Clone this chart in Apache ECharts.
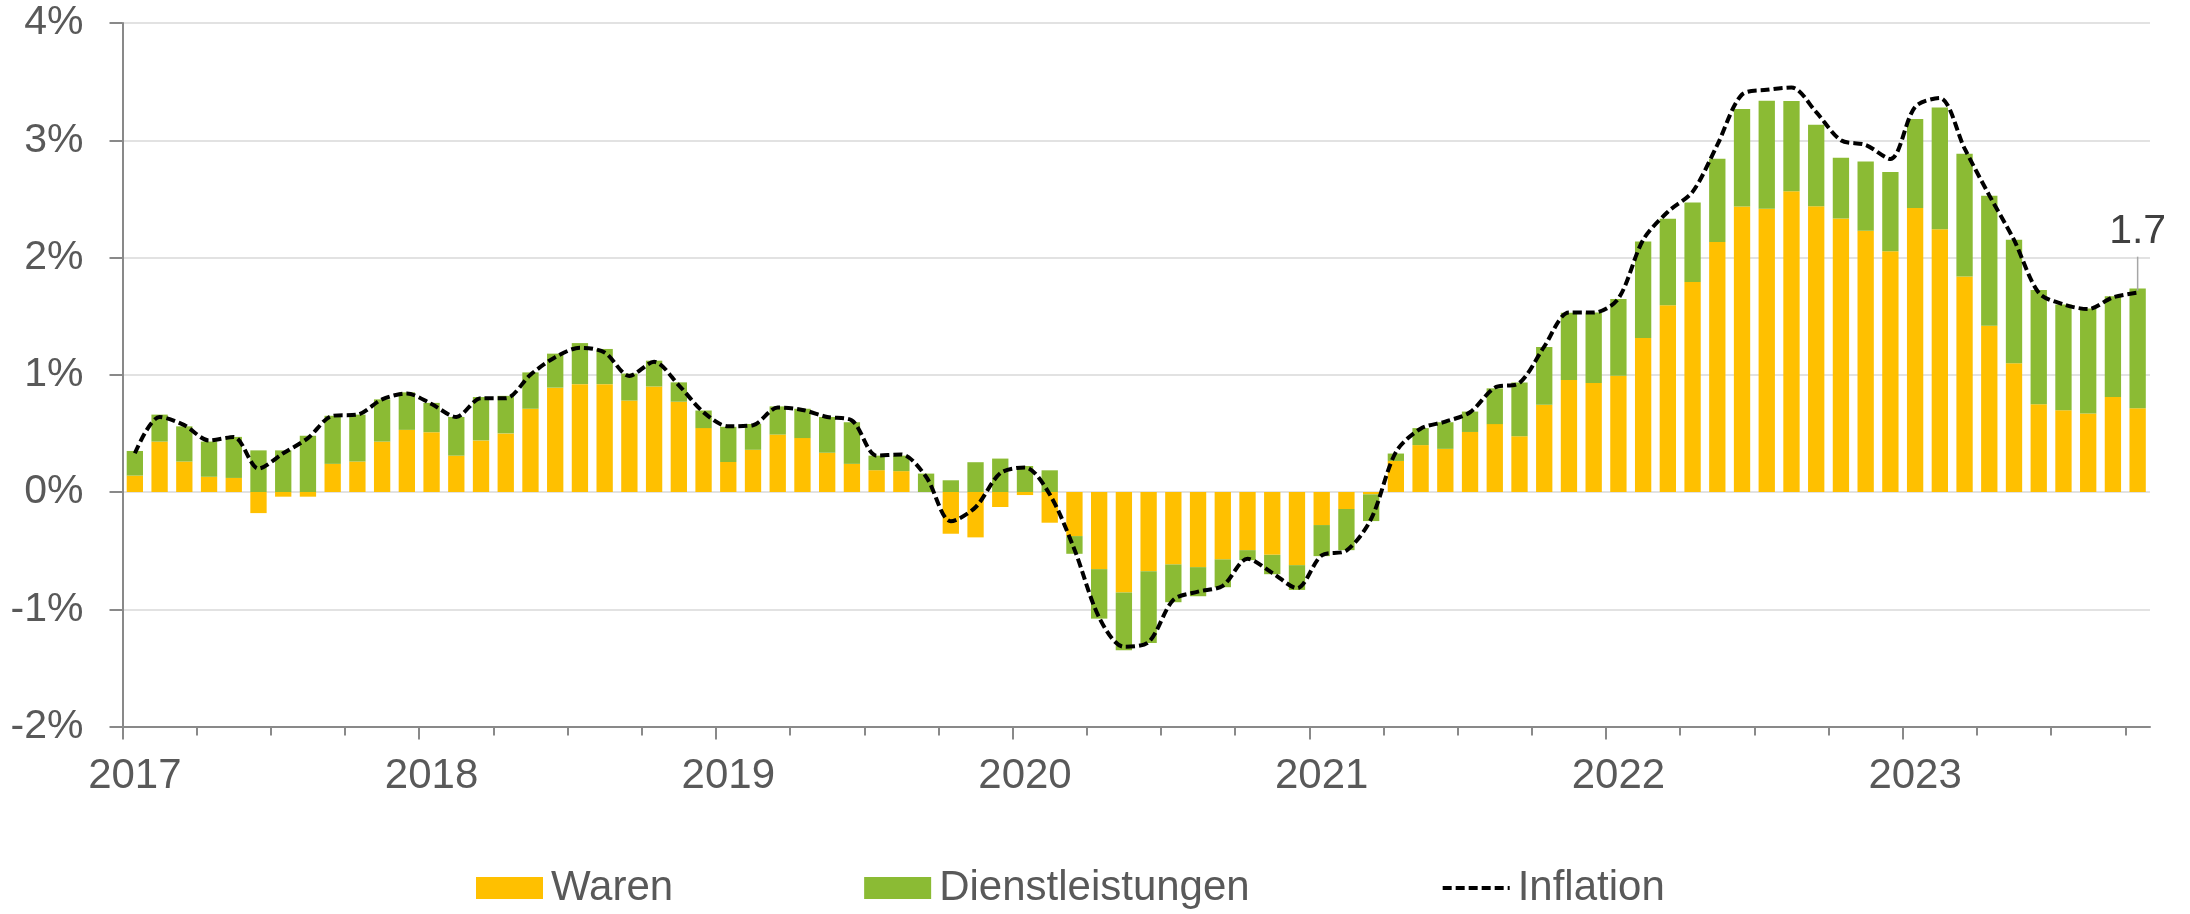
<!DOCTYPE html>
<html>
<head>
<meta charset="utf-8">
<script src="https://cdn.jsdelivr.net/npm/echarts@6/dist/echarts.min.js"></script>
<style>
html,body{margin:0;padding:0;background:#fff;}
#chart{width:2190px;height:914px;}
</style>
</head>
<body>
<div id="chart"></div>
<script>
// Year labels (one label per January)
const years = ['2017','2018','2019','2020','2021','2022','2023'];
const monthCount = 82; // Jan 2017 - Oct 2023
const months = [];
years.forEach(y => { for (let m = 1; m <= 12; m++) months.push(y + '-' + (m < 10 ? '0' + m : m)); });
months.length = monthCount;

// Contribution of goods (Waren), percentage points
const waren = [
  0.14, 0.43, 0.26, 0.13, 0.12, -0.18, -0.04, -0.04, 0.24, 0.26, 0.43, 0.53,
  0.51, 0.31, 0.44, 0.50, 0.71, 0.89, 0.92, 0.92, 0.78, 0.90, 0.77, 0.545,
  0.256, 0.36, 0.49, 0.46, 0.335, 0.24, 0.186, 0.178, 0.0, -0.356, -0.387, -0.128,
  -0.026, -0.262, -0.376, -0.658, -0.858, -0.675, -0.618, -0.641, -0.575, -0.496, -0.536, -0.624,
  -0.282, -0.145, -0.02, 0.265, 0.40, 0.368, 0.512, 0.579, 0.475, 0.744, 0.955, 0.93,
  0.992, 1.314, 1.593, 1.791, 2.133, 2.435, 2.416, 2.566, 2.438, 2.333, 2.228, 2.053,
  2.423, 2.24, 1.837, 1.417, 1.099, 0.748, 0.698, 0.669, 0.81, 0.715
];
// Contribution of services (Dienstleistungen), percentage points
const dienstleistungen = [
  0.21, 0.23, 0.30, 0.30, 0.35, 0.355, 0.355, 0.48, 0.41, 0.40, 0.36, 0.32,
  0.25, 0.33, 0.37, 0.32, 0.31, 0.29, 0.35, 0.30, 0.23, 0.22, 0.165, 0.15,
  0.30, 0.22, 0.24, 0.25, 0.305, 0.355, 0.124, 0.132, 0.157, 0.10, 0.254, 0.285,
  0.222, 0.185, -0.151, -0.422, -0.492, -0.613, -0.322, -0.248, -0.237, -0.085, -0.165, -0.211,
  -0.265, -0.351, -0.228, 0.063, 0.145, 0.227, 0.174, 0.305, 0.459, 0.492, 0.574, 0.60,
  0.653, 0.822, 0.737, 0.679, 0.709, 0.831, 0.92, 0.768, 0.694, 0.517, 0.591, 0.677,
  0.758, 1.04, 1.047, 1.11, 1.053, 0.974, 0.901, 0.897, 0.859, 1.021
];
// Inflation rate, %
const inflation = [
  0.33, 0.64, 0.57, 0.44, 0.47, 0.20, 0.33, 0.46, 0.65, 0.66, 0.79, 0.84,
  0.75, 0.64, 0.80, 0.80, 1.00, 1.15, 1.23, 1.19, 0.99, 1.11, 0.91, 0.68,
  0.56, 0.57, 0.72, 0.70, 0.64, 0.61, 0.31, 0.32, 0.13, -0.25, -0.13, 0.16,
  0.21, -0.02, -0.49, -1.07, -1.32, -1.28, -0.92, -0.85, -0.80, -0.57, -0.69, -0.82,
  -0.54, -0.50, -0.23, 0.34, 0.54, 0.60, 0.68, 0.89, 0.93, 1.24, 1.53, 1.53,
  1.65, 2.15, 2.39, 2.56, 2.96, 3.39, 3.43, 3.45, 3.24, 3.00, 2.96, 2.84,
  3.285, 3.36, 2.93, 2.53, 2.15, 1.70, 1.60, 1.56, 1.66, 1.70
];
const lastLabel = '1.7';

// Boundaries between months (for tick marks at band edges)
const boundaries = [];
for (let i = 0; i <= monthCount; i++) boundaries.push(String(i));

const FONT = "'Liberation Sans', Arial, sans-serif";
const GRAY = '#898989';
const TEXT = '#595959';

const chart = echarts.init(document.getElementById('chart'), null, {renderer: 'canvas'});
chart.setOption({
  animation: false,
  textStyle: {fontFamily: FONT},
  grid: {left: 122.5, right: 40, top: 23, bottom: 187.5, outerBoundsMode: 'none', containLabel: false},
  legend: {
    left: 476, top: 866, padding: 0,
    itemWidth: 67, itemHeight: 22, itemGap: 191,
    data: [
      {name: 'Waren', icon: 'rect'},
      {name: 'Dienstleistungen', icon: 'rect'},
      {name: 'Inflation', itemStyle: {opacity: 0}, lineStyle: {width: 4, type: [9, 4], color: '#000'}}
    ],
    textStyle: {fontSize: 42, color: TEXT, fontFamily: FONT, lineHeight: 44, padding: [0, 0, 0, 3]}
  },
  xAxis: [
    {
      type: 'category', data: months, boundaryGap: true, position: 'bottom',
      axisLine: {show: false}, axisTick: {show: false}, splitLine: {show: false},
      axisLabel: {
        interval: (i) => i % 12 === 0,
        formatter: (v) => v.slice(0, 4),
        fontSize: 42, color: TEXT, fontFamily: FONT, margin: 29
      }
    },
    {
      type: 'category', data: boundaries, boundaryGap: false, position: 'bottom',
      axisLine: {show: true, lineStyle: {color: GRAY, width: 2}},
      axisTick: {show: true, interval: (i) => i % 3 === 0, length: 9, lineStyle: {color: GRAY, width: 2}},
      axisLabel: {show: false}, splitLine: {show: false}
    },
    {
      type: 'category', data: boundaries, boundaryGap: false, position: 'bottom',
      axisLine: {show: false},
      axisTick: {show: true, interval: (i) => i % 12 === 0, length: 13, lineStyle: {color: GRAY, width: 2}},
      axisLabel: {show: false}, splitLine: {show: false}
    }
  ],
  yAxis: {
    type: 'value', min: -2, max: 4, interval: 1,
    axisLine: {show: true, lineStyle: {color: GRAY, width: 2}},
    axisTick: {show: true, length: 13, lineStyle: {color: GRAY, width: 2}},
    axisLabel: {formatter: '{value}%', fontSize: 41, color: TEXT, fontFamily: FONT, margin: 39},
    splitLine: {show: true, lineStyle: {color: '#d9d9d9', width: 1.5}}
  },
  series: [
    {
      name: 'Waren', type: 'bar', stack: 'beitrag', xAxisIndex: 0,
      data: waren, barWidth: '66%',
      itemStyle: {color: '#FFC000'}
    },
    {
      name: 'Dienstleistungen', type: 'bar', stack: 'beitrag', xAxisIndex: 0,
      data: dienstleistungen, barWidth: '66%',
      itemStyle: {color: '#8BBB34'}
    },
    {
      name: 'Inflation', type: 'line', xAxisIndex: 0,
      data: inflation, smooth: 0.3, symbol: 'none', z: 5,
      lineStyle: {color: '#000000', width: 4, type: [9, 4]},
      itemStyle: {color: '#000000'},
      markPoint: {
        silent: true,
        data: [{
          coord: [monthCount - 1, inflation[monthCount - 1]],
          symbol: 'rect', symbolSize: [1.5, 34], symbolOffset: [0, -19],
          itemStyle: {color: '#a6a6a6'},
          label: {show: true, position: 'top', distance: 4, formatter: lastLabel,
                  fontSize: 41, color: '#404040', fontFamily: FONT}
        }]
      }
    }
  ]
});
</script>
</body>
</html>
